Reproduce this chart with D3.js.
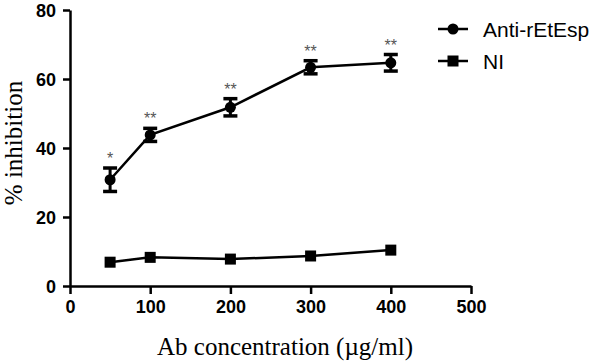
<!DOCTYPE html>
<html>
<head>
<meta charset="utf-8">
<script src="https://cdn.jsdelivr.net/npm/d3@7"></script>
<style>
  body { margin: 0; background: #fff; }
  svg { display: block; }
</style>
</head>
<body>
<div id="chart"></div>
<script>
// values
const concentrations = [50, 100, 200, 300, 400];
const antiMean = [30.8, 43.8, 51.8, 63.4, 64.7];
const antiErr = [3.4, 1.9, 2.5, 1.9, 2.4];
const niMean = [6.9, 8.3, 7.8, 8.7, 10.4];
const stars = ["*", "**", "**", "**", "**"];
const xTicks = [0, 100, 200, 300, 400, 500];
const yTicks = [0, 20, 40, 60, 80];

const width = 598, height = 361;
const margin = { top: 10, right: 127, bottom: 75, left: 70 };

const svg = d3.select("#chart")
    .append("svg")
    .attr("width", width)
    .attr("height", height);

const x = d3.scaleLinear().domain([0, 500]).range([margin.left, width - margin.right]);
const y = d3.scaleLinear().domain([0, 80]).range([height - margin.bottom, margin.top]);

// axes
const xAxis = svg.append("g")
    .attr("transform", `translate(0,${y(0)})`)
    .call(d3.axisBottom(x).tickValues(xTicks).tickSize(8).tickPadding(6).tickSizeOuter(0));
const yAxis = svg.append("g")
    .attr("transform", `translate(${x(0)},0)`)
    .call(d3.axisLeft(y).tickValues(yTicks).tickSize(7).tickPadding(7).tickSizeOuter(0));

[xAxis, yAxis].forEach(g => {
    g.select(".domain").attr("stroke", "#000").attr("stroke-width", 2.5);
    g.selectAll(".tick line").attr("stroke", "#000").attr("stroke-width", 2.5);
    g.selectAll(".tick text")
        .attr("fill", "#000")
        .attr("font-family", "Liberation Sans, Arial, sans-serif")
        .attr("font-weight", "bold")
        .attr("font-size", "18px");
});
yAxis.selectAll(".tick text").attr("dy", "0.36em");

// axis titles
svg.append("text")
    .attr("x", 285)
    .attr("y", 355)
    .attr("text-anchor", "middle")
    .attr("font-family", "Liberation Serif, Times New Roman, serif")
    .attr("font-size", "25px")
    .text("Ab concentration (µg/ml)");

svg.append("text")
    .attr("transform", "translate(22,143) rotate(-90)")
    .attr("text-anchor", "middle")
    .attr("font-family", "Liberation Serif, Times New Roman, serif")
    .attr("font-size", "25px")
    .text("% inhibition");

const anti = concentrations.map((c, i) => ({ c, m: antiMean[i], e: antiErr[i], s: stars[i] }));
const ni = concentrations.map((c, i) => ({ c, m: niMean[i] }));

const line = d3.line().x(d => x(d.c)).y(d => y(d.m));

// NI series
svg.append("path")
    .datum(ni)
    .attr("d", line)
    .attr("fill", "none")
    .attr("stroke", "#000")
    .attr("stroke-width", 2.5);

svg.selectAll(".sq")
    .data(ni)
    .enter()
    .append("rect")
    .attr("x", d => x(d.c) - 5.5)
    .attr("y", d => y(d.m) - 5.5)
    .attr("width", 11)
    .attr("height", 11)
    .attr("fill", "#000");

// Anti-rEtEsp series
svg.append("path")
    .datum(anti)
    .attr("d", line)
    .attr("fill", "none")
    .attr("stroke", "#000")
    .attr("stroke-width", 2.5);

const eb = svg.selectAll(".err")
    .data(anti)
    .enter()
    .append("g");

eb.append("line")
    .attr("x1", d => x(d.c)).attr("x2", d => x(d.c))
    .attr("y1", d => y(d.m - d.e)).attr("y2", d => y(d.m + d.e))
    .attr("stroke", "#000").attr("stroke-width", 3);
eb.append("line")
    .attr("x1", d => x(d.c) - 7).attr("x2", d => x(d.c) + 7)
    .attr("y1", d => y(d.m + d.e)).attr("y2", d => y(d.m + d.e))
    .attr("stroke", "#000").attr("stroke-width", 3.5);
eb.append("line")
    .attr("x1", d => x(d.c) - 7).attr("x2", d => x(d.c) + 7)
    .attr("y1", d => y(d.m - d.e)).attr("y2", d => y(d.m - d.e))
    .attr("stroke", "#000").attr("stroke-width", 3.5);
eb.append("circle")
    .attr("cx", d => x(d.c))
    .attr("cy", d => y(d.m))
    .attr("r", 5.5)
    .attr("fill", "#000");
eb.append("text")
    .attr("x", d => x(d.c))
    .attr("y", d => y(d.m + d.e) - 4)
    .attr("text-anchor", "middle")
    .attr("font-family", "Liberation Sans, Arial, sans-serif")
    .attr("font-size", "16px")
    .attr("fill", "#555")
    .text(d => d.s);

// legend
const legend = svg.append("g");
const items = [
    { name: "Anti-rEtEsp", shape: "circle", y: 29 },
    { name: "NI", shape: "square", y: 61 }
];
items.forEach(it => {
    legend.append("line")
        .attr("x1", 438).attr("x2", 468)
        .attr("y1", it.y).attr("y2", it.y)
        .attr("stroke", "#000").attr("stroke-width", 2.5);
    if (it.shape === "circle") {
        legend.append("circle").attr("cx", 453).attr("cy", it.y).attr("r", 5.5).attr("fill", "#000");
    } else {
        legend.append("rect").attr("x", 447.5).attr("y", it.y - 5.5).attr("width", 11).attr("height", 11).attr("fill", "#000");
    }
    legend.append("text")
        .attr("x", 483)
        .attr("y", it.y + 7.5)
        .attr("font-family", "Liberation Sans, Arial, sans-serif")
        .attr("font-size", "21px")
        .text(it.name);
});
</script>
</body>
</html>
